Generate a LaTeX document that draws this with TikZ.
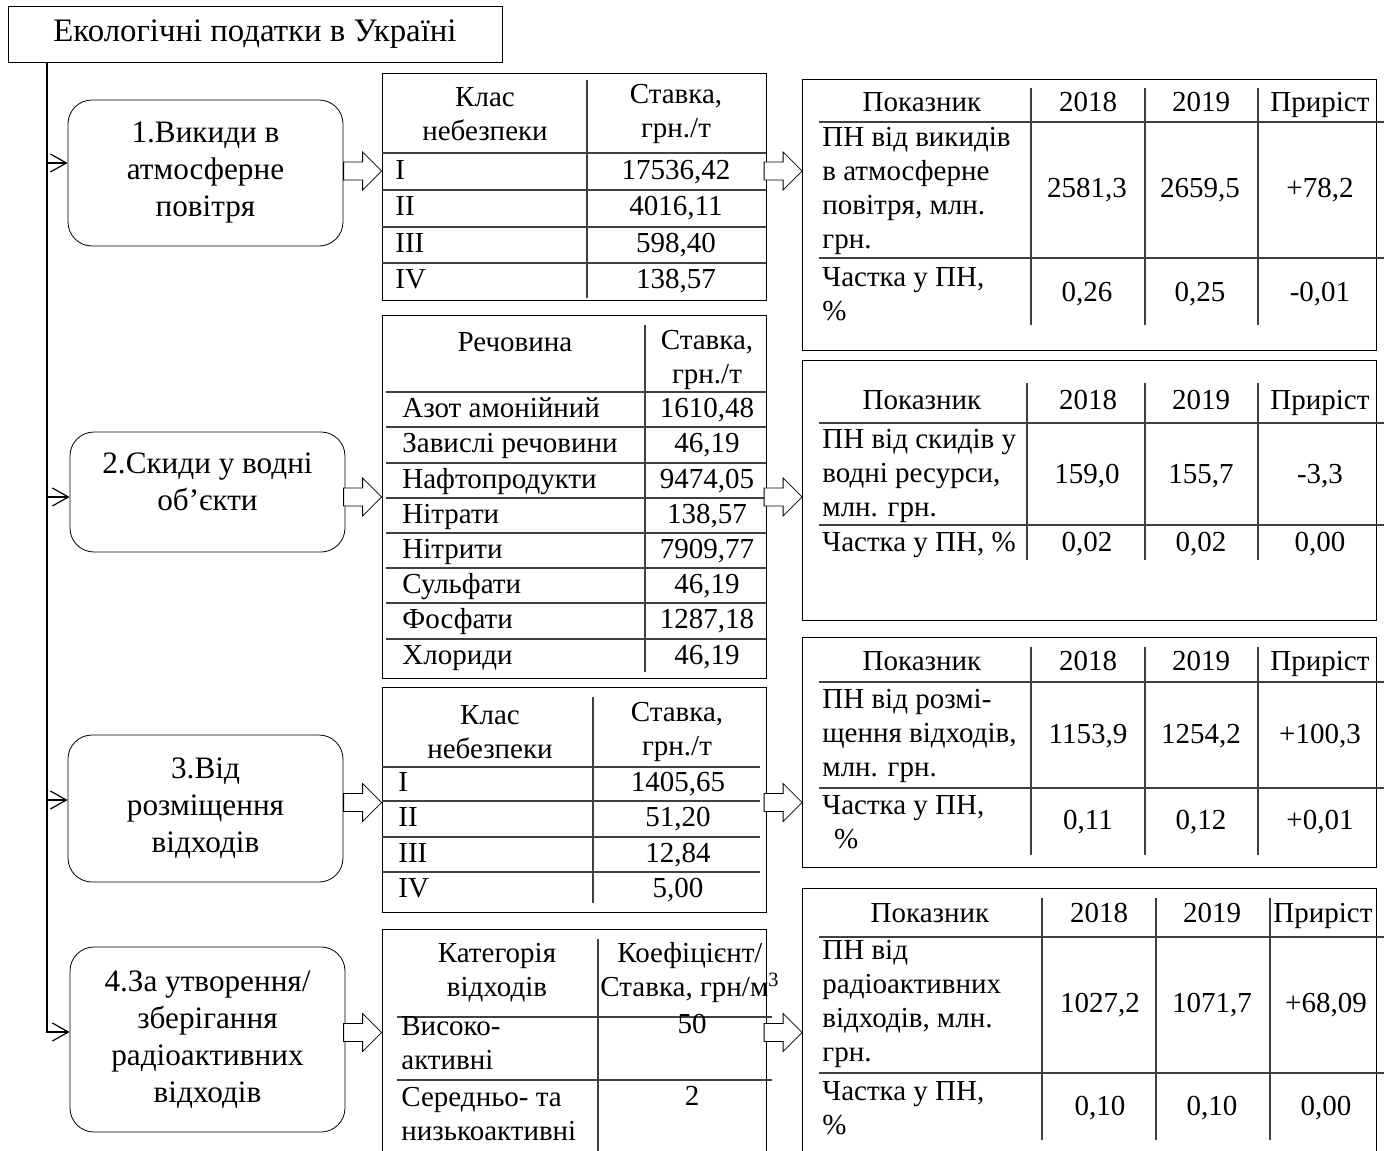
\documentclass[tikz,border=0pt]{standalone}
\usepackage{fontspec}
\setmainfont{Liberation Serif}
\usetikzlibrary{arrows.meta}

\newcommand{\tabfont}{\fontsize{14.5}{17}\selectfont}
\newcommand{\kindfont}{\fontsize{15.6}{18.5}\selectfont}
\newcommand{\titlefont}{\fontsize{16.4}{19}\selectfont}

\begin{document}
\begin{tikzpicture}[
        x=0.5pt, y=-0.5pt,
        titleBlock/.style={
            rectangle, draw, thin, minimum width=247pt, minimum height=28pt,
            inner sep=0pt, font=\titlefont
        },
        kindBlock/.style={
            rectangle, rounded corners=12pt, draw, thin, minimum width=137.5pt,
            align=center, inner sep=0pt, font=\kindfont
        },
        frameBlock/.style={rectangle, draw, thin, inner sep=0pt},
        cell/.style={inner sep=0pt, align=center, font=\tabfont},
        lcell/.style={inner sep=0pt, anchor=west, align=left, font=\tabfont},
        one/.style={text height=10pt, text depth=3pt},
        rule/.style={draw=black!75, line width=0.6pt},
        pics/blockArrow/.style={code={
            \draw[thin, fill=white] (0,0) -- (-19,-19) -- (-19,-9) -- (-38,-9)
                -- (-38,9) -- (-19,9) -- (-19,19) -- cycle;
        }},
        trunkArrow/.style={semithick, -{Straight Barb[length=8pt, width=9pt]}}
    ]
        \useasboundingbox (0,0) rectangle (1388,1151);

        % Nodes
        \node (title) [titleBlock] at (255,34) {Екологічні податки в Україні};
        \node (box1) [kindBlock, minimum height=73pt] at (205.5,173) {1.Викиди в\\атмосферне\\повітря};
        \node (box2) [kindBlock, minimum height=60pt, text depth=10pt] at (207.5,492) {2.Скиди у водні\\об’єкти};
        \node (box3) [kindBlock, minimum height=73.5pt] at (205.5,808.5) {3.Від\\розміщення\\відходів};
        \node (box4) [kindBlock, minimum height=92.5pt] at (207.5,1039.5) {4.За утворення/\\зберігання\\радіоактивних\\відходів};

        % Rates tables
        \node (t1) [frameBlock, minimum width=192pt, minimum height=113.5pt] at (574,186.5) {};
        \draw[rule] (587,80) -- (587,298);
        \foreach \y in {153,190,227,263} \draw[rule] (382,\y) -- (766,\y);
        \node (t1h1) [cell] at (485,114) {Клас\\небезпеки};
        \node (t1h2) [cell] at (676,114) {Ставка,\\грн./т};
        \foreach \c/\v/\y [count=\i] in {I/{17536,42}/172, II/{4016,11}/208, III/{598,40}/245, IV/{138,57}/281} {
            \node (t1c\i) [lcell, one] at (395,\y) {\c};
            \node (t1v\i) [cell, one] at (676,\y) {\v};
        }

        \node (t2) [frameBlock, minimum width=192pt, minimum height=181.5pt] at (574,496.5) {};
        \draw[rule] (645,325) -- (645,672);
        \foreach \y in {392,427,463,498,533,568,603,639} \draw[rule] (386,\y) -- (766,\y);
        \node (t2h1) [cell] at (515,342) {Речовина};
        \node (t2h2) [cell] at (707,360) {Ставка,\\грн./т};
        \foreach \c/\v/\y [count=\i] in {Азот амонійний/{1610,48}/410, Завислі речовини/{46,19}/445,
                Нафтопродукти/{9474,05}/481, Нітрати/{138,57}/516, Нітрити/{7909,77}/551,
                Сульфати/{46,19}/586, Фосфати/{1287,18}/621, Хлориди/{46,19}/657} {
            \node (t2c\i) [lcell, one] at (402,\y) {\c};
            \node (t2v\i) [cell, one] at (707,\y) {\v};
        }

        \node (t3) [frameBlock, minimum width=192pt, minimum height=112.5pt] at (574,799.5) {};
        \draw[rule] (593,697) -- (593,903);
        \foreach \y in {767,801,837,872} \draw[rule] (382,\y) -- (760,\y);
        \node (t3h1) [cell] at (490,732) {Клас\\небезпеки};
        \node (t3h2) [cell] at (677,732) {Ставка,\\грн./т};
        \foreach \c/\v/\y [count=\i] in {I/{1405,65}/784, II/{51,20}/819, III/{12,84}/855, IV/{5,00}/890} {
            \node (t3c\i) [lcell, one] at (398,\y) {\c};
            \node (t3v\i) [cell, one] at (678,\y) {\v};
        }

        \node (t4) [frameBlock, minimum width=192pt, minimum height=118pt] at (574,1047) {};
        \draw[rule] (598,939) -- (598,1160);
        \foreach \y in {1017,1080} \draw[rule] (397,\y) -- (772,\y);
        \node (t4h1) [cell] at (497,973) {Категорія\\відходів};
        \node (t4h2) [cell] at (690,973) {Коефіцієнт/\\Ставка, грн/м\textsuperscript{3}};
        \node (t4c1) [lcell] at (401,1043) {Високо-\\активні};
        \node (t4v1) [cell, one] at (692,1026) {50};
        \node (t4c2) [lcell] at (401,1114) {Середньо- та\\низькоактивні};
        \node (t4v2) [cell, one] at (692,1098) {2};

        % Revenue tables
        \node (r1) [frameBlock, minimum width=287pt, minimum height=135.5pt] at (1089.5,214.5) {};
        \foreach \x in {1031,1145,1258} \draw[rule] (\x,88) -- (\x,325);
        \foreach \y in {122,258} \draw[rule] (819,\y) -- (1384,\y);
        \foreach \t/\x [count=\i] in {Показник/922, 2018/1088, 2019/1201, Приріст/1320}
            \node (r1h\i) [cell, one] at (\x,104) {\t};
        \node (r1a) [lcell] at (822,191) {ПН від викидів\\в атмосферне\\повітря, млн.\\грн.};
        \node (r1b) [lcell] at (822,294) {Частка у ПН,\\\%};
        \foreach \v/\w/\x [count=\i] in {{2581,3}/{0,26}/1087, {2659,5}/{0,25}/1200, {+78,2}/{-0,01}/1320} {
            \node (r1v\i) [cell, one] at (\x,190) {\v};
            \node (r1w\i) [cell, one] at (\x,294) {\w};
        }

        \node (r2) [frameBlock, minimum width=287pt, minimum height=130pt] at (1089.5,490) {};
        \foreach \x in {1027,1145,1258} \draw[rule] (\x,383) -- (\x,560);
        \foreach \y in {423,525} \draw[rule] (819,\y) -- (1384,\y);
        \foreach \t/\x [count=\i] in {Показник/922, 2018/1088, 2019/1201, Приріст/1320}
            \node (r2h\i) [cell, one] at (\x,402) {\t};
        \node (r2a) [lcell] at (822,476) {ПН від скидів у\\водні ресурси,\\млн. грн.};
        \node (r2b) [lcell, one] at (822,544) {Частка у ПН, \%};
        \foreach \v/\w/\x [count=\i] in {{159,0}/{0,02}/1087, {155,7}/{0,02}/1201, {-3,3}/{0,00}/1320} {
            \node (r2v\i) [cell, one] at (\x,476) {\v};
            \node (r2w\i) [cell, one] at (\x,544) {\w};
        }

        \node (r3) [frameBlock, minimum width=287pt, minimum height=115pt] at (1089.5,752) {};
        \foreach \x in {1031,1145,1258} \draw[rule] (\x,647) -- (\x,855);
        \foreach \y in {682,788} \draw[rule] (819,\y) -- (1384,\y);
        \foreach \t/\x [count=\i] in {Показник/922, 2018/1088, 2019/1201, Приріст/1320}
            \node (r3h\i) [cell, one] at (\x,663) {\t};
        \node (r3a) [lcell] at (822,736) {ПН від розмі-\\щення відходів,\\млн. грн.};
        \node (r3b) [lcell] at (822,822) {Частка у ПН,\\\hspace{0.4em}\%};
        \foreach \v/\w/\x [count=\i] in {{1153,9}/{0,11}/1088, {1254,2}/{0,12}/1201, {+100,3}/{+0,01}/1320} {
            \node (r3v\i) [cell, one] at (\x,736) {\v};
            \node (r3w\i) [cell, one] at (\x,822) {\w};
        }

        \node (r4) [frameBlock, minimum width=287pt, minimum height=138.5pt] at (1089.5,1026.5) {};
        \foreach \x in {1042,1156,1270} \draw[rule] (\x,898) -- (\x,1140);
        \foreach \y in {937,1073} \draw[rule] (819,\y) -- (1384,\y);
        \foreach \t/\x [count=\i] in {Показник/930, 2018/1099, 2019/1212, Приріст/1323}
            \node (r4h\i) [cell, one] at (\x,915) {\t};
        \node (r4a) [lcell] at (822,1004) {ПН від\\радіоактивних\\відходів, млн.\\грн.};
        \node (r4b) [lcell] at (822,1108) {Частка у ПН,\\\%};
        \foreach \v/\w/\x [count=\i] in {{1027,2}/{0,10}/1100, {1071,7}/{0,10}/1212, {+68,09}/{0,00}/1326} {
            \node (r4v\i) [cell, one] at (\x,1005) {\v};
            \node (r4w\i) [cell, one] at (\x,1108) {\w};
        }

        % Arrows
        \coordinate (trunk) at (47,62);
        \path ([yshift=5pt]box1.west) coordinate (in1)
              ([yshift=-2.5pt]box2.west) coordinate (in2)
              ([yshift=4.25pt]box3.west) coordinate (in3)
              ([yshift=3.75pt]box4.west) coordinate (in4);
        \draw[trunkArrow] (trunk) |- (in4);
        \draw[trunkArrow] (trunk |- in1) -- (in1);
        \draw[trunkArrow] (trunk |- in2) -- (in2);
        \draw[trunkArrow] (trunk |- in3) -- (in3);

        \path ([yshift=1pt]box1.east) coordinate (row1)
              ([yshift=-2.5pt]box2.east) coordinate (row2)
              ([yshift=3pt]box3.east) coordinate (row3)
              ([yshift=3.5pt]box4.east) coordinate (row4);
        \foreach \i in {1,2,3,4} {
            \pic at (row\i -| t\i.west) {blockArrow};
            \pic at (row\i -| r\i.west) {blockArrow};
        }
    \end{tikzpicture}
\end{document}
